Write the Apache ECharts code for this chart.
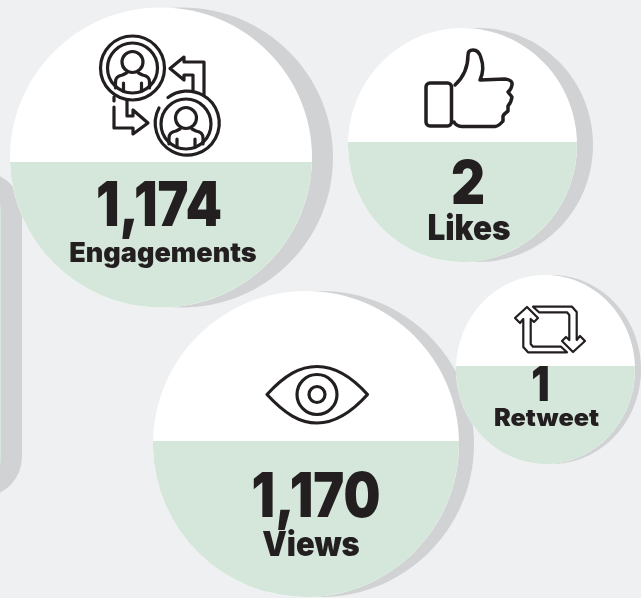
<html>
<head>
    <meta http-equiv="content-type" content="text/html; charset=utf-8">
    <title>Tweet stats</title>
    <script src="https://cdn.jsdelivr.net/npm/echarts@6/dist/echarts.min.js"></script>
    <style>
        html, body { margin: 0; padding: 0; background: #eff0f2; }
        #echart { width: 641px; height: 598px; }
    </style>
</head>

<body>
    <div id="echart"></div>
    <script type="text/javascript">
        var metrics = ['Engagements', 'Likes', 'Views', 'Retweet'];
        var counts = [1174, 2, 1170, 1];

        var INK = '#231f20', GREEN = '#d5e7db', SHADOW = '#d1d2d4', BG = '#eff0f2';
        var FONT = 'Inter';

        // page layout of the four badges, pixels
        var badges = [
            { cx: 161, cy: 157.5, rx: 151, ry: 150, split: 162, shadow: 21, icon: engagementIcon,
              num: { x: 159, y: 207, size: 62, sx: 0.84 }, name: { x: 163, y: 254, size: 27, sx: 1 } },
            { cx: 462.5, cy: 145, rx: 114.5, ry: 117, split: 142, shadow: 16, icon: likeIcon,
              num: { x: 468, y: 186, size: 60, sx: 0.88 }, name: { x: 469, y: 229, size: 35, sx: 0.9 } },
            { cx: 306, cy: 444, rx: 153, ry: 153, split: 441, shadow: 15, icon: viewIcon,
              num: { x: 316, y: 498, size: 62, sx: 0.84 }, name: { x: 311, y: 546, size: 34, sx: 0.91 } },
            { cx: 545.5, cy: 369.5, rx: 89.5, ry: 94.5, split: 366, shadow: 6, icon: retweetIcon,
              num: { x: 540.5, y: 387, size: 48, sx: 0.85 }, name: { x: 546.5, y: 419, size: 24, sx: 1.05 } }
        ];

        function stroke(d, width) {
            return {
                type: 'path',
                shape: { pathData: d },
                style: { fill: null, stroke: INK, lineWidth: width || 3.2, lineJoin: 'round', lineCap: 'round' }
            };
        }

        function ring(cx, cy, r, width) {
            return {
                type: 'circle',
                shape: { cx: cx, cy: cy, r: r },
                style: { fill: null, stroke: INK, lineWidth: width || 3.2 }
            };
        }

        function person(cx, cy) {
            var p = function(x, y) { return (cx + x) + ' ' + (cy + y); };
            return [
                ring(cx, cy - 6, 10.5),
                stroke('M' + p(-17, 20) + ' L' + p(-17, 14) + ' Q' + p(-17, 8) + ' ' + p(-10, 7) + ' L' + p(-6, 5)
                    + ' M' + p(6, 5) + ' L' + p(10, 7) + ' Q' + p(17, 8) + ' ' + p(17, 14) + ' L' + p(17, 20)),
                stroke('M' + p(-9, 15) + ' L' + p(-9, 23) + ' M' + p(9, 15) + ' L' + p(9, 23))
            ];
        }

        function engagementIcon() {
            return [
                ring(132.5, 68, 32),
                ring(132.5, 68, 25),
                ring(186, 124, 25),
                stroke('M 159 108 A 32 32 0 1 0 168 97.5'),
                stroke('M 204 95 L 204 62 L 184 62 L 184 57 L 170 68.5 L 184 80 L 184 75 L 193 75 L 193 90'),
                stroke('M 114 107 L 114 128 L 133 128 L 133 134 L 148 123 L 133 110 L 133 116 L 127 116 L 127 100'),
                stroke('M 114 97 L 114 101')
            ].concat(person(132.5, 68), person(186, 124));
        }

        function likeIcon() {
            return [
                {
                    type: 'rect',
                    shape: { x: 426, y: 83, width: 25.5, height: 43, r: 4 },
                    style: { fill: null, stroke: INK, lineWidth: 3.5 }
                },
                stroke('M 455 85 Q 468 73 468 55 Q 468 50 473 50 Q 479 50 481 58 Q 485 69 480 80'
                    + ' L 505 79 Q 513 80 512 85 Q 511 90 508 92 L 512 97 Q 511 103 508 106 L 508 111'
                    + ' Q 504 114 503 116 L 503 121 Q 499 126 495 126.5 L 462 126.5 Q 456 126 454 122', 3.5)
            ];
        }

        function viewIcon() {
            return [
                stroke('M 267 394.5 C 285 375 300 366.5 317 366.5 C 334 366.5 350 375 367.5 394.5'
                    + ' C 350 414 334 423 317 423 C 300 423 285 414 267 394.5 Z'),
                ring(317, 394.5, 20),
                ring(317, 394.5, 8)
            ];
        }

        function retweetIcon() {
            var pts = function(flip) {
                var list = [[527, 307], [538, 318], [534, 322], [530.7, 319], [530.7, 344], [533, 346.7], [561, 346.7],
                    [567, 352.3], [528, 352.3], [523.3, 347], [523.3, 319], [520, 323], [515, 318]];
                return 'M' + list.map(function(q) {
                    return flip ? (1100 - q[0]) + ' ' + (659 - q[1]) : q[0] + ' ' + q[1];
                }).join(' L') + ' Z';
            };
            return [stroke(pts(false), 2.2), stroke(pts(true), 2.2)];
        }

        function label(opt, text) {
            return {
                type: 'text',
                x: opt.x,
                y: opt.y,
                scaleX: opt.sx,
                style: {
                    text: text,
                    fontFamily: FONT,
                    fontWeight: 900,
                    fontSize: opt.size,
                    fill: INK,
                    align: 'center',
                    verticalAlign: 'middle'
                }
            };
        }

        function renderBadge(params, api) {
            var b = badges[params.dataIndex];
            var c = api.coord([api.value(0), api.value(1)]);
            var dy = b.split - b.cy;
            var dx = b.rx * Math.sqrt(1 - dy * dy / (b.ry * b.ry));
            var large = dy < 0 ? 1 : 0;
            var lower = 'M' + (c[0] - dx) + ' ' + b.split + ' L' + (c[0] + dx) + ' ' + b.split
                + ' A' + b.rx + ' ' + b.ry + ' 0 ' + large + ' 1 ' + (c[0] - dx) + ' ' + b.split + ' Z';
            var children = [
                {
                    type: 'ellipse',
                    shape: { cx: c[0] + b.shadow, cy: c[1], rx: b.rx, ry: b.ry },
                    style: { fill: SHADOW }
                },
                {
                    type: 'ellipse',
                    shape: { cx: c[0], cy: c[1], rx: b.rx, ry: b.ry },
                    style: { fill: '#ffffff' }
                },
                { type: 'path', shape: { pathData: lower }, style: { fill: GREEN } }
            ].concat(b.icon());
            children.push(label(b.num, api.value(2).toLocaleString('en-US')));
            children.push(label(b.name, metrics[params.dataIndex]));
            return { type: 'group', children: children };
        }

        var chart = echarts.init(document.getElementById('echart'));
        chart.setOption({
            backgroundColor: BG,
            animation: false,
            grid: { left: 0, right: 0, top: 0, bottom: 0 },
            xAxis: { type: 'value', min: 0, max: 641, show: false },
            yAxis: { type: 'value', min: 0, max: 598, inverse: true, show: false },
            graphic: [
                {
                    type: 'rect',
                    shape: { x: -100, y: 172, width: 122, height: 325, r: 40 },
                    style: { fill: SHADOW }
                },
                {
                    type: 'rect',
                    shape: { x: -100, y: 172, width: 101, height: 325, r: 40 },
                    style: { fill: GREEN }
                }
            ],
            series: [{
                type: 'custom',
                coordinateSystem: 'cartesian2d',
                clip: false,
                silent: true,
                renderItem: renderBadge,
                encode: { x: 0, y: 1 },
                data: counts.map(function(v, i) { return [badges[i].cx, badges[i].cy, v]; })
            }]
        });
    </script>
</body>
</html>
